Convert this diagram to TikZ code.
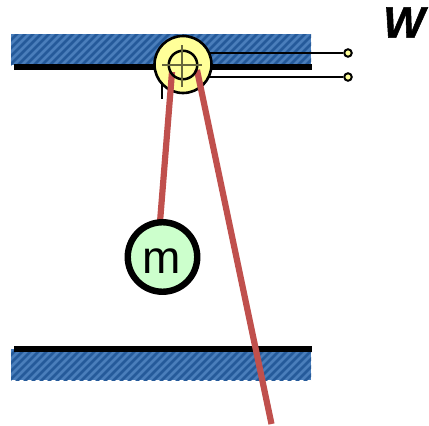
\documentclass[tikz,border=0pt]{standalone}
\usepackage{fontspec}
\setmainfont{Liberation Sans}
\newfontfamily\wfont[FakeBold=1.2,UprightFont=* Bold Italic]{Liberation Sans}
\definecolor{hatchlight}{HTML}{4A7EBB}
\definecolor{hatchdark}{HTML}{255A9A}
\definecolor{rod}{HTML}{C0504D}
\definecolor{pulley}{HTML}{FFFF99}
\definecolor{massfill}{HTML}{CCFFCC}
\tikzset{
  wire/.style={line width=2pt,black},
  bar/.style={fill=black,draw=none},
  rodline/.style={line width=6.2pt,rod},
  terminal/.style={circle,draw=black,line width=2pt,fill=pulley,minimum size=7.5pt,inner sep=0pt},
  pulleyouter/.style={circle,draw=black,line width=2.6pt,fill=pulley,minimum size=57pt,inner sep=0pt},
  pulleyinner/.style={circle,draw=black,line width=2.5pt,minimum size=28.5pt,inner sep=0pt},
  crossline/.style={line width=1.3pt,black!60!pulley},
  massball/.style={circle,draw=black,line width=6.4pt,fill=massfill,minimum size=69.5pt,inner sep=0pt},
  masslabel/.style={anchor=base,inner sep=0pt,font=\fontsize{46}{46}\selectfont},
}
\newcommand{\hatchband}[2]{%
  \begin{scope}
    \clip (11,#1) rectangle (311,#2);
    \fill[hatchlight] (11,#1) rectangle (311,#2);
    \foreach \k in {-32,-24,...,320}{
      \draw[hatchdark,line width=2.5pt] (\k,#2+2) -- ++(36,-36);
    }
  \end{scope}}
\begin{document}
\begin{tikzpicture}[x=1pt,y=-1pt]
\useasboundingbox (0,0) rectangle (429,426);
\hatchband{34}{65}
\fill[bar] (14,64) rectangle (312,70);
\hatchband{349}{380}
\fill[bar] (14,346) rectangle (312,352);
\coordinate (stub) at (162,85);
\coordinate (stubend) at (162,98.5);
\draw[wire] (stub) -- (stubend);
\node[terminal] (t1) at (348,53) {};
\node[terminal] (t2) at (348,77) {};
\coordinate (pc) at (183,64.5);
\draw[wire] (pc |- t1) -- (t1);
\draw[wire] (pc |- t2) -- (t2);
\node[pulleyouter] (p) at (pc) {};
\coordinate (ltop) at (172,72);
\coordinate (lend) at (160,222);
\coordinate (rtop) at (197,70);
\coordinate (rend) at (271.5,424);
\draw[rodline] (ltop) -- (lend);
\draw[rodline] (rtop) -- (rend);
\node[massball] (m) at (162.5,257) {};
\node[masslabel] (mtext) at (162,273) {m};
\node[pulleyinner] (q) at (183,65) {};
\coordinate (ch1) at (162,65);
\coordinate (ch2) at (202,65);
\coordinate (cv1) at (182,45);
\coordinate (cv2) at (182,87);
\draw[crossline] (ch1) -- (ch2);
\draw[crossline] (cv1) -- (cv2);
\node[font=\fontsize{44}{44}\selectfont\wfont] (w) at (404,22.5) {W};
\end{tikzpicture}
\end{document}
